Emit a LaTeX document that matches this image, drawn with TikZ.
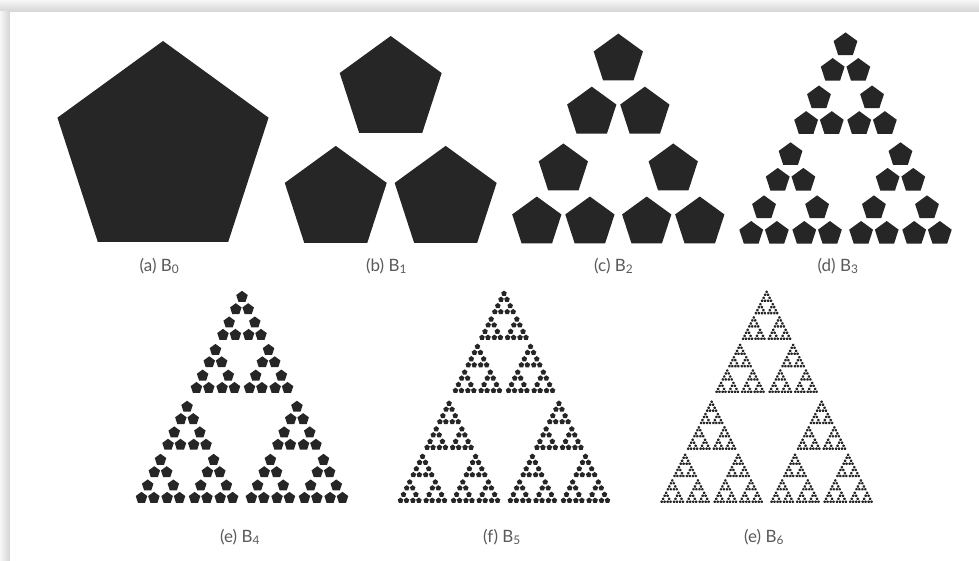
\documentclass[tikz,border=0pt]{standalone}
\usepackage{fontspec}
\setmainfont{Lato}
\usepackage{tikz}
\usetikzlibrary{positioning}
\definecolor{pentgray}{HTML}{262626}
\definecolor{capgray}{HTML}{5A5A5A}

% one pentagon at level 0, else three shrunk copies
\newcommand\pentset[4]{%
  \ifnum#1=0\relax
    \fill[pent] (#2,#3) +(90:#4) -- +(162:#4) -- +(234:#4) -- +(306:#4) -- +(18:#4) -- cycle;
  \else
    \begingroup
    \pgfmathtruncatemacro\sublev{#1-1}%
    \pgfmathsetmacro\subrad{#4*0.483}%
    \pgfmathsetmacro\xl{#2-0.495*#4}\pgfmathsetmacro\xr{#2+0.495*#4}%
    \pgfmathsetmacro\yt{#3+0.562*#4}\pgfmathsetmacro\yb{#3-0.428*#4}%
    \edef\next{\noexpand\pentset{\sublev}{#2}{\yt}{\subrad}%
      \noexpand\pentset{\sublev}{\xl}{\yb}{\subrad}%
      \noexpand\pentset{\sublev}{\xr}{\yb}{\subrad}}%
    \next
    \endgroup
  \fi}

\begin{document}
\begin{tikzpicture}[x=1pt, y=1pt, every node/.style={font=\fontsize{17}{19}\selectfont, text=capgray, inner sep=0pt}]
\tikzset{pent/.style={fill=pentgray}}
\useasboundingbox (0,0) rectangle (979,561);
\fill[black!4] (0,0) rectangle (979,561);
\shade[top color=black!3, bottom color=black!17] (0,549) rectangle (979,561);
\shade[left color=black!3, right color=black!17] (0,0) rectangle (10,549);
\fill[white] (10,0) rectangle (979,549);
\pentset{0}{163}{409}{111}
\pentset{1}{390.7}{409}{111}
\pentset{2}{618.3}{409}{111}
\pentset{3}{845.5}{409}{111}
\pentset{4}{242}{150}{111}
\pentset{5}{504}{150}{111}
\pentset{6}{766.6}{150}{111}
\node (capa) at (159.5,295) {(a) B\textsubscript{0}};
\node (capb) at (386.5,295) {(b) B\textsubscript{1}};
\node (capc) at (613.7,295) {(c) B\textsubscript{2}};
\node (capd) at (838,295) {(d) B\textsubscript{3}};
\node (cape) at (240,24) {(e) B\textsubscript{4}};
\node (capf) at (502,24) {(f) B\textsubscript{5}};
\node (capg) at (764,24) {(e) B\textsubscript{6}};
\end{tikzpicture}
\end{document}
